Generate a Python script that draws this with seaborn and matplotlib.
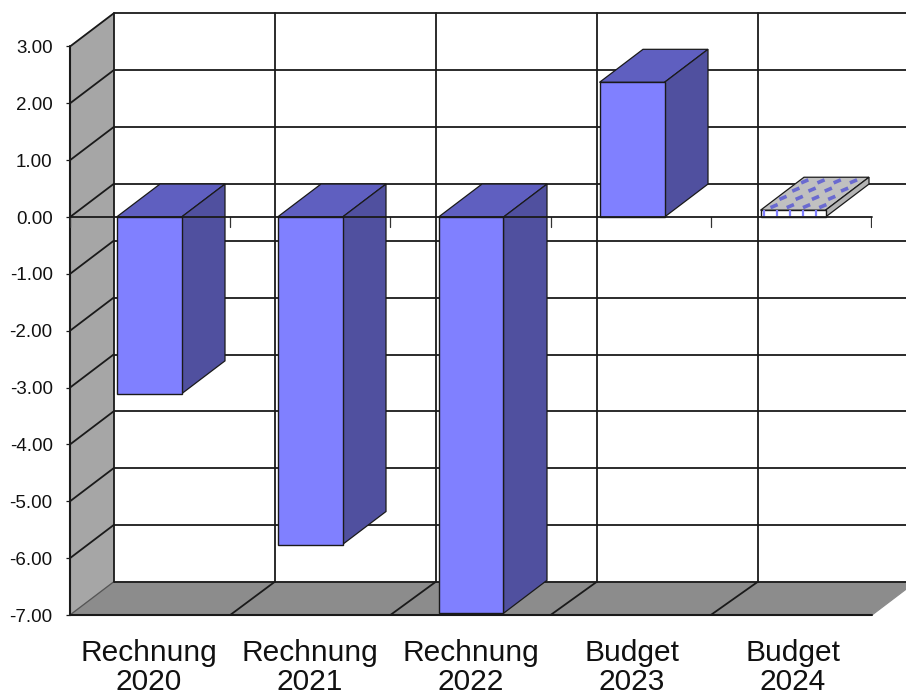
"""Pseudo-3D column chart: Rechnung / Budget results per year."""

import matplotlib.pyplot as plt
from matplotlib.patches import Polygon
import numpy as np
import seaborn as sns

CATEGORIES = ["Rechnung\n2020", "Rechnung\n2021", "Rechnung\n2022", "Budget\n2023", "Budget\n2024"]
VALUES = [-3.11, -5.76, -6.97, 2.37, 0.12]
Y_TICKS = [3, 2, 1, 0, -1, -2, -3, -4, -5, -6, -7]

FRONT = "#8080ff"
TOP = "#5f5fc0"
SIDE = "#50509f"
WALL = "#a6a6a6"
FLOOR = "#8c8c8c"
INK = "#1a1a1a"

WIDTH_PX, HEIGHT_PX = 906, 698
LEFT_PX, RIGHT_PX = 70, 872
TOP_PX, BOTTOM_PX = 46.5, 615
CAT_PX = 161.0
UNIT_PX = (BOTTOM_PX - TOP_PX) / 10
DX = 43.5 / CAT_PX
DY = 33 / UNIT_PX


def add_poly(ax, points, color, zorder, edge=None, lw=0.9):
    ax.add_patch(Polygon(points, closed=True, facecolor=color, edgecolor=edge or color,
                         linewidth=lw, zorder=zorder, clip_on=False))


def draw_back(ax, x0, x1):
    y0, y1 = Y_TICKS[-1], Y_TICKS[0]
    add_poly(ax, [(x0, y0), (x0 + DX, y0 + DY), (x0 + DX, y1 + DY), (x0, y1)], WALL, 1)
    add_poly(ax, [(x0, y0), (x1, y0), (x1 + DX, y0 + DY), (x0 + DX, y0 + DY)], FLOOR, 1)
    line = dict(color=INK, linewidth=1.3, clip_on=False, zorder=2)
    for y in Y_TICKS:
        ax.plot([x0 + DX, x1 + DX + 0.2], [y + DY, y + DY], **line)
        if y == y0:
            ax.plot([x0, x0 + DX], [y, y + DY], color="#555555", linewidth=0.9, clip_on=False, zorder=2)
        else:
            ax.plot([x0, x0 + DX], [y, y + DY], **line)
    for i in range(len(CATEGORIES)):
        xb = x0 + DX + i
        ax.plot([xb, xb], [y0 + DY, y1 + DY], **line)
        if i:
            ax.plot([x0 + i * 160.2 / CAT_PX, xb], [y0, y0 + DY], **line)
    ax.plot([x0, x0], [y0, y1], **{**line, "linewidth": 1.5})
    ax.plot([x0, x1], [y0, y0], **{**line, "linewidth": 1.5})


def draw_depth(ax, bar, top_color, side_color):
    left, right = bar.get_x(), bar.get_x() + bar.get_width()
    low, high = sorted([bar.get_y(), bar.get_y() + bar.get_height()])
    add_poly(ax, [(left, high), (right, high), (right + DX, high + DY), (left + DX, high + DY)],
             top_color, 4, edge=INK)
    add_poly(ax, [(right, low), (right, high), (right + DX, high + DY), (right + DX, low + DY)],
             side_color, 4, edge=INK)


def pattern_last_bar(ax, bar):
    left, w = bar.get_x(), bar.get_width()
    high = bar.get_y() + bar.get_height()
    bar.set_facecolor("white")
    # blue stubs on the front, slanted dashes on the top face
    for t in np.linspace(0.05, 0.85, 5):
        ax.plot([left + t * w, left + t * w], [0.01, high], color=FRONT, linewidth=1.6,
                zorder=6, solid_capstyle="butt")
    for row in range(4):
        v = (row + 0.5) / 4
        for col in range(4):
            u = (col + 0.5 - 0.12 * (row % 2)) / 4
            xs = left + (u + np.array([-0.055, 0.055])) * w + v * DX
            ys = high + v * DY + np.array([-0.027, 0.027])
            ax.plot(xs, ys, color="#6a6ad0", linewidth=2.6, zorder=6, solid_capstyle="butt")


def main():
    sns.set_theme(style="white")
    plt.rcParams["font.family"] = ["Liberation Sans", "DejaVu Sans"]

    fig = plt.figure(figsize=(WIDTH_PX / 100, HEIGHT_PX / 100), dpi=100, facecolor="white")
    ax = fig.add_axes([LEFT_PX / WIDTH_PX, 1 - BOTTOM_PX / HEIGHT_PX,
                       (RIGHT_PX - LEFT_PX) / WIDTH_PX, (BOTTOM_PX - TOP_PX) / HEIGHT_PX])
    ax.patch.set_visible(False)

    sns.barplot(x=CATEGORIES, y=VALUES, color=FRONT, saturation=1, width=65 / CAT_PX,
                edgecolor=INK, linewidth=1.0, zorder=5, ax=ax)
    bars = list(ax.patches)

    x0 = (LEFT_PX - 149) / CAT_PX
    x1 = (RIGHT_PX - 149) / CAT_PX
    ax.set_xlim(x0, x1)
    ax.set_ylim(Y_TICKS[-1], Y_TICKS[0])
    sns.despine(ax=ax, left=True, bottom=True)

    draw_back(ax, x0, x1)
    for i, bar in enumerate(bars):
        if i == len(bars) - 1:
            draw_depth(ax, bar, "#c0c0c0", "#b4b4b4")
            pattern_last_bar(ax, bar)
        else:
            draw_depth(ax, bar, TOP, SIDE)

    # zero axis with its tick marks runs over the columns
    ax.plot([x0, x1], [0, 0], color=INK, linewidth=1.3, zorder=7, clip_on=False)
    for i in range(len(CATEGORIES) + 1):
        xt = x0 + i * 160.2 / CAT_PX
        ax.plot([xt, xt], [0, -0.17], color="#333333", linewidth=0.9, zorder=3)

    ax.set_yticks(Y_TICKS, labels=[f"{v:.2f}" for v in Y_TICKS])
    ax.tick_params(axis="y", left=True, length=3, width=0.9, color=INK, pad=9.5, labelsize=13.5,
                   labelcolor="#111111")
    ax.tick_params(axis="x", bottom=False, length=0, pad=17, labelsize=21.5, labelcolor="#111111")
    for label in ax.get_xticklabels():
        label.set_linespacing(1.08)
    ax.set_xlabel("")
    ax.set_ylabel("")

    fig.savefig("out.png", dpi=100, facecolor="white")
    plt.close(fig)


if __name__ == "__main__":
    main()
